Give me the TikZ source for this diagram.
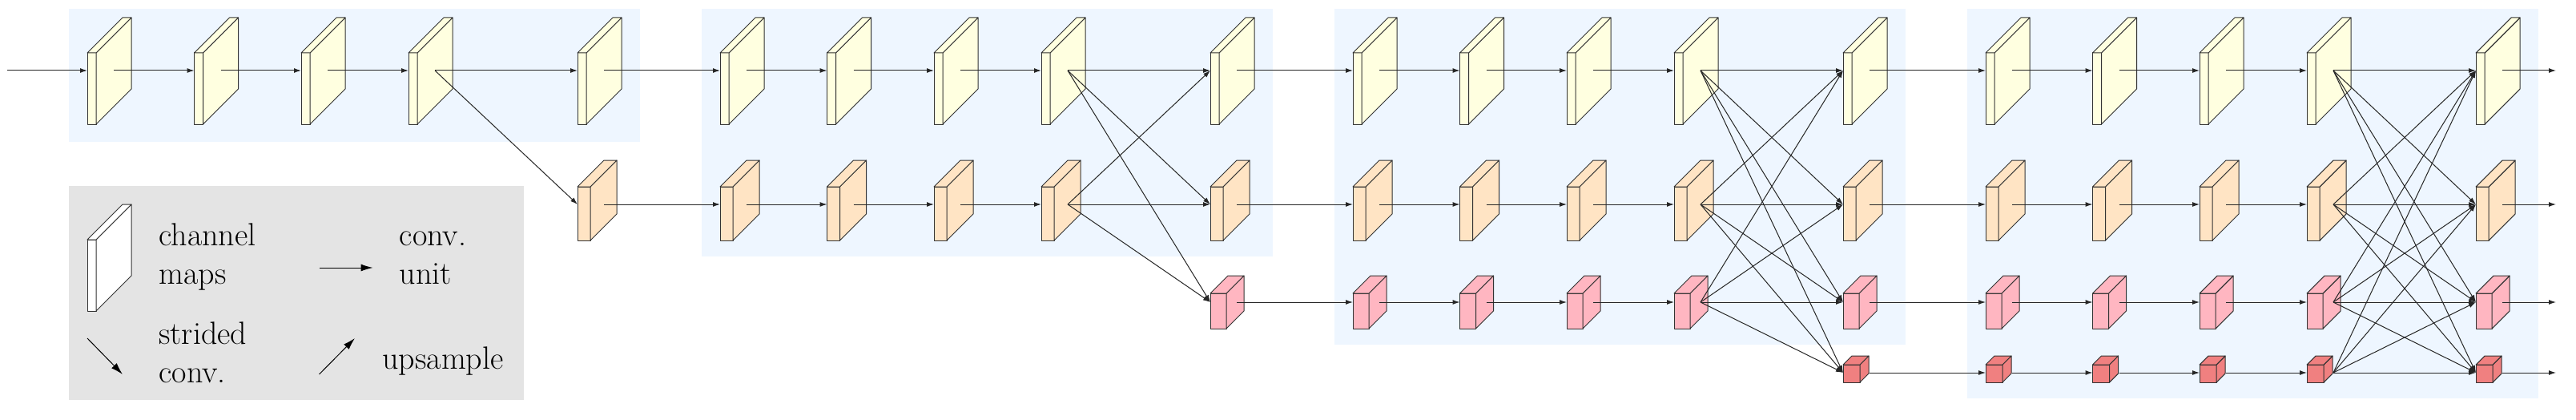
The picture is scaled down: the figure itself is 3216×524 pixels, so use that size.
\documentclass[tikz,border=0pt]{standalone}
\usetikzlibrary{arrows.meta}
\definecolor{stagebg}{HTML}{EEF6FF}
\definecolor{cyel}{HTML}{FFFFE0}
\definecolor{corg}{HTML}{FFE4C4}
\definecolor{cpink}{HTML}{FFB6C1}
\definecolor{cred}{HTML}{F08080}
\definecolor{legbg}{HTML}{E4E4E4}
\tikzset{
  boxline/.style={draw=black!80, line width=0.5pt, line join=round},
  conn/.style={draw=black!85, line width=0.5pt, -{Latex[length=4.5pt,width=3pt]}},
  legarrow/.style={draw=black, line width=0.5pt, -{Latex[length=7.5pt,width=4.5pt]}},
  legtext/.style={font=\fontsize{20}{24}\selectfont, align=left, inner sep=0pt, anchor=base west},
}
% #1 name, #2 x (front-left), #3 arrow y, #4 front top, #5 front bottom, #6 thickness, #7 depth, #8 colour
\newcommand{\cbox}[8]{%
  \filldraw[boxline,fill=#8] (#2,#4) rectangle ({#2+#6},#5);
  \filldraw[boxline,fill=#8] ({#2+#6},#4) -- ({#2+#6+#7},{#4-#7}) -- ({#2+#6+#7},{#5-#7}) -- ({#2+#6},#5) -- cycle;
  \filldraw[boxline,fill=#8] (#2,#4) -- ({#2+#7},{#4-#7}) -- ({#2+#6+#7},{#4-#7}) -- ({#2+#6},#4) -- cycle;
  \coordinate (#1-in) at (#2,#3);
  \coordinate (#1-out) at ({#2+33},#3);
}
\newcommand{\rowA}[2]{\cbox{#1}{#2}{88}{66}{155}{11}{44}{cyel}}
\newcommand{\rowB}[2]{\cbox{#1}{#2}{255}{233}{300}{16}{33}{corg}}
\newcommand{\rowC}[2]{\cbox{#1}{#2}{377}{366}{410}{20}{22}{cpink}}
\newcommand{\rowD}[2]{\cbox{#1}{#2}{465}{455}{477}{21}{11}{cred}}

\begin{document}
\begin{tikzpicture}[x=0.5pt,y=-0.5pt]
\useasboundingbox (0,0) rectangle (3216,524);
% stage backgrounds
\foreach \st/\yb in {1/177,2/320,3/430,4/497}{
  \pgfmathsetmacro{\SX}{109+790*(\st-1)}
  \fill[stagebg] ({\SX-23},11) rectangle ({\SX+690},\yb);
}
% channel maps
\foreach \st in {1,2,3,4}{
  \foreach \cl/\of in {0/0,1/133.5,2/267,3/401,4/612}{
    \pgfmathsetmacro{\X}{109+790*(\st-1)+\of}
    \rowA{s\st-r1-c\cl}{\X}
    \ifnum\st>1 \rowB{s\st-r2-c\cl}{\X}\fi
    \ifnum\st>2 \rowC{s\st-r3-c\cl}{\X}\fi
    \ifnum\st>3 \rowD{s\st-r4-c\cl}{\X}\fi
  }
}
\rowB{s1-r2-c4}{721}
\rowC{s2-r3-c4}{1511}
\rowD{s3-r4-c4}{2301}
% input
\coordinate (in) at (9,88);
\draw[conn] (in) -- (s1-r1-c0-in);
% conv units inside stages
\foreach \st in {1,2,3,4}{
  \foreach \rw in {1,...,\st}{
    \foreach \cl/\nx in {0/1,1/2,2/3}{
      \draw[conn] (s\st-r\rw-c\cl-out) -- (s\st-r\rw-c\nx-in);
    }
  }
}
% fusion
\foreach \st/\tm in {1/2,2/3,3/4,4/4}{
  \foreach \rw in {1,...,\st}{
    \foreach \tg in {1,...,\tm}{
      \draw[conn] (s\st-r\rw-c3-out) -- (s\st-r\tg-c4-in);
    }
  }
}
% between stages
\foreach \st/\nx in {1/2,2/3,3/4}{
  \foreach \rw in {1,...,\nx}{
    \draw[conn] (s\st-r\rw-c4-out) -- (s\nx-r\rw-c0-in);
  }
}
% outputs
\foreach \rw/\y in {1/88,2/255,3/377,4/465}{
  \coordinate (out\rw) at (3191,\y);
  \draw[conn] (s4-r\rw-c4-out) -- (out\rw);
}
% legend
\fill[legbg] (86,232) rectangle (654,499);
\cbox{legbox}{109}{344}{299}{388}{11}{44}{white}
\node[legtext] (lch) at (198,354) {channel\\maps};
\coordinate (lca) at (398.5,334);
\coordinate (lcb) at (465.5,334);
\draw[legarrow] (lca) -- (lcb);
\node[legtext] (lcu) at (498.5,354) {conv.\\unit};
\coordinate (lsa) at (109,422);
\coordinate (lsb) at (153,467);
\draw[legarrow] (lsa) -- (lsb);
\node[legtext] (lsc) at (198,477) {strided\\conv.};
\coordinate (lua) at (398.5,467);
\coordinate (lub) at (443,422);
\draw[legarrow] (lua) -- (lub);
\node[legtext] (lup) at (477,460) {upsample};
\end{tikzpicture}
\end{document}
